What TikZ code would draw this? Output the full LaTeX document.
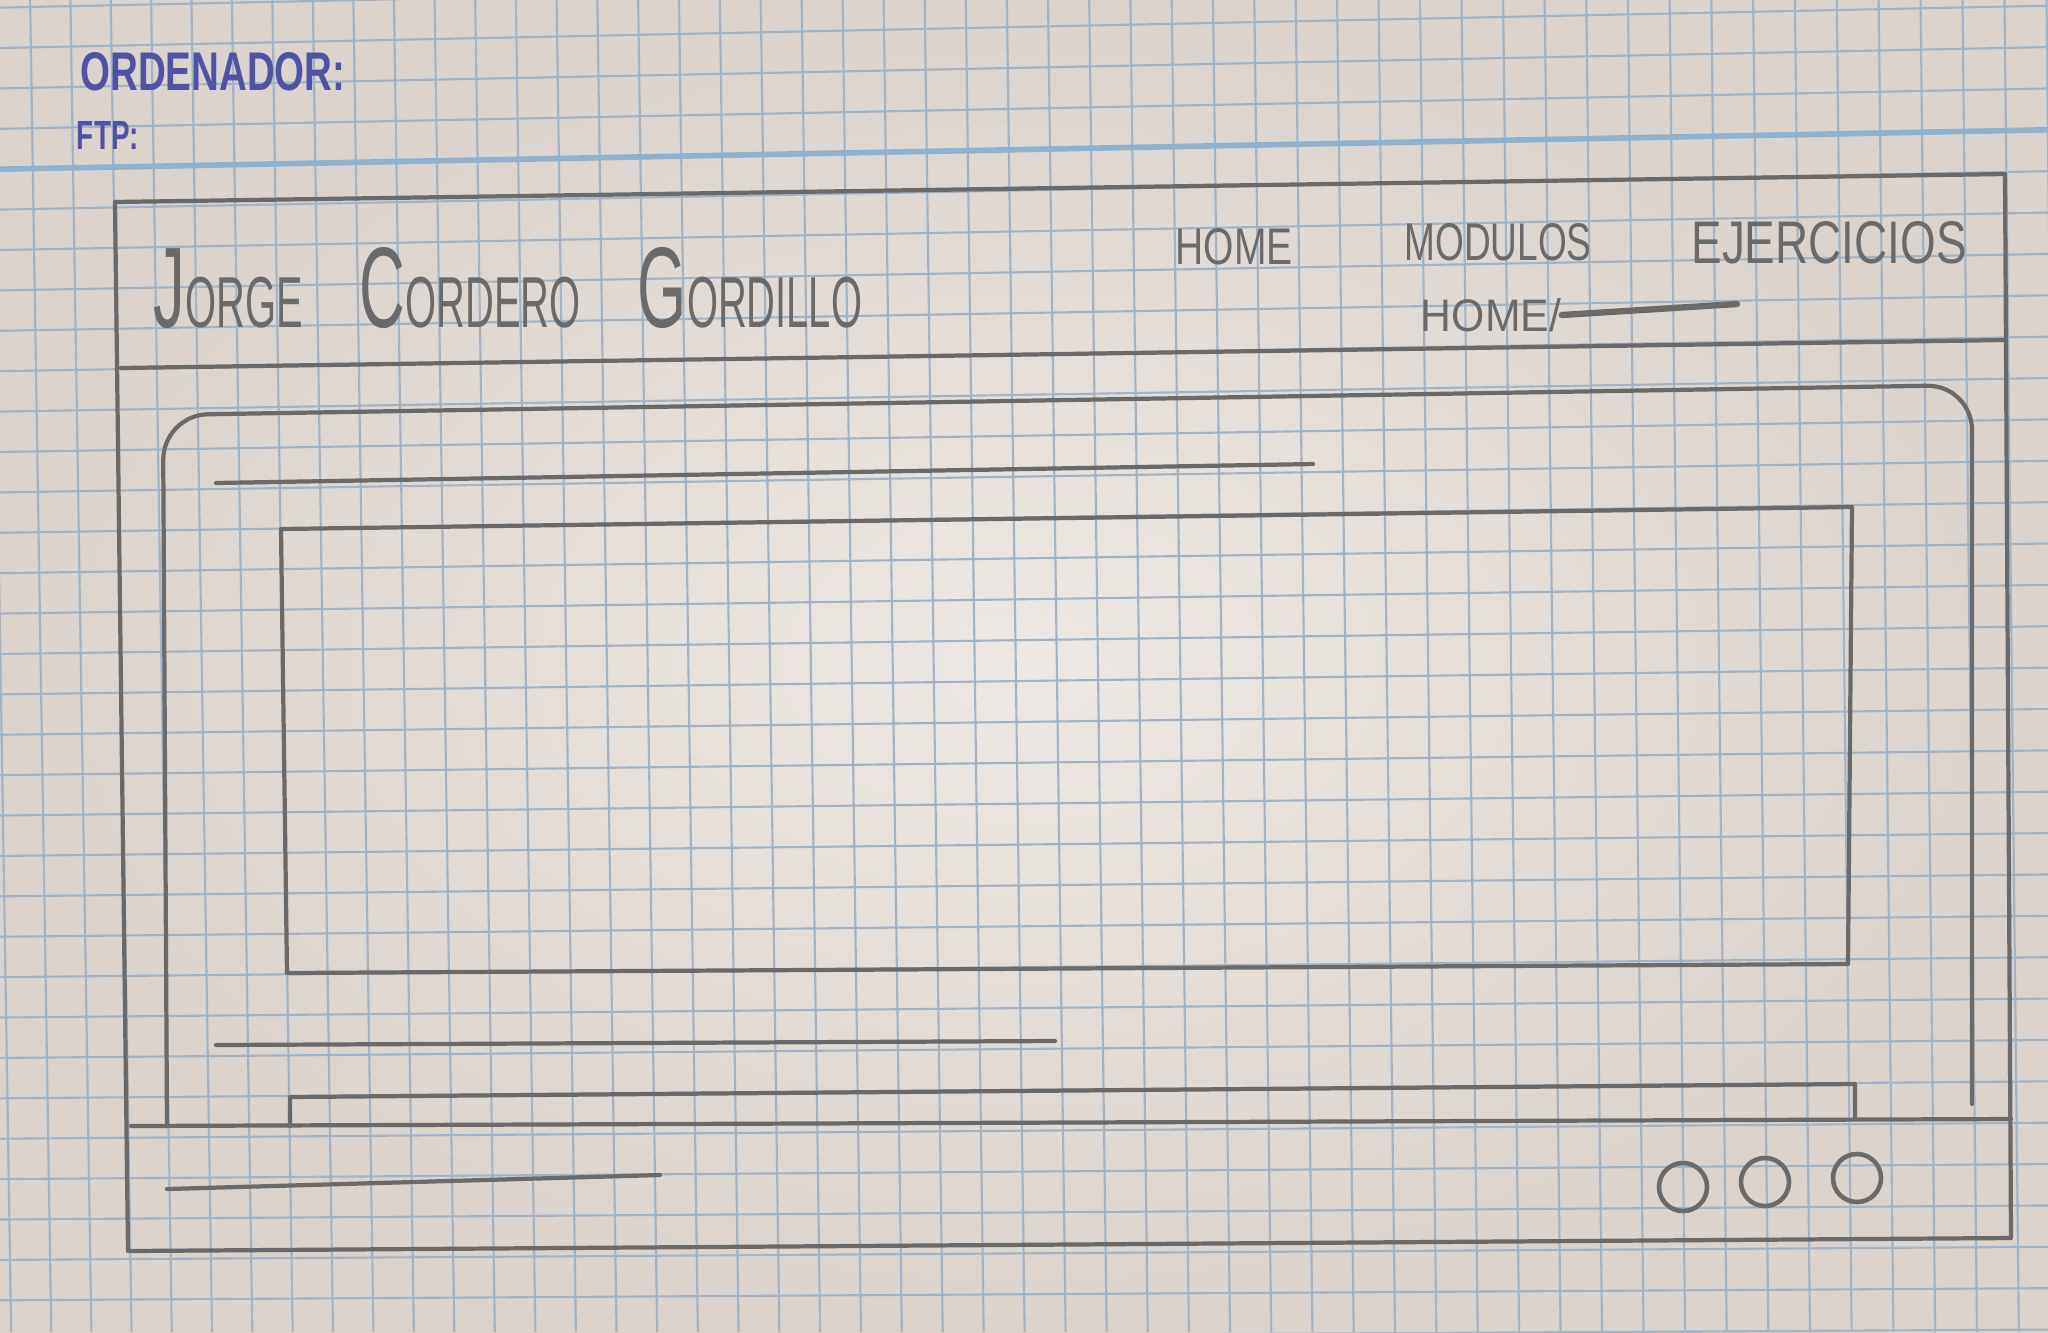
\documentclass[tikz,border=0pt]{standalone}
\usepackage{fontspec}
\setmainfont{Liberation Sans}
\usepackage{graphicx}
\usepackage{tikz}
\usetikzlibrary{positioning}
\definecolor{paperlight}{HTML}{EEE8E4}
\definecolor{paperdark}{HTML}{DBD3CC}
\definecolor{gridblue}{HTML}{9FB4C8}
\definecolor{marginblue}{HTML}{8DB1CE}
\definecolor{pencil}{HTML}{6A6A6A}
\definecolor{ink}{HTML}{5053A3}
\tikzstyle{pencil}=[draw=pencil,line width=1.2pt,line cap=round,line join=round]
\newcommand{\sketchword}[3]{\resizebox{#1}{#2}{#3}}
\newcommand{\smallcaps}[1]{{\fontsize{6.3}{7}\selectfont #1}}

\begin{document}
\begin{tikzpicture}[
    x=0.01cm, y=-0.01cm,
    gridline/.style={draw=gridblue,line width=0.6pt},
    handtext/.style={text=pencil,inner sep=0pt},
    inktext/.style={text=ink,inner sep=0pt,font=\bfseries},
    dotbtn/.style={circle,draw=pencil,line width=1.3pt,minimum size=0.48cm,inner sep=0pt}
]
% graph paper
\shade[inner color=paperlight,outer color=paperdark] (0,0) rectangle (2048,1332);
\useasboundingbox (0,0) rectangle (2048,1332);
\foreach \i in {-2,...,48}{
    \pgfmathsetmacro{\xt}{70.4+40.30*\i+0.01809*\i*\i}
    \pgfmathsetmacro{\xb}{\xt+21.02-0.1417*\i}
    \draw[gridline] (\xt,0) -- (\xb,1332);
}
\foreach \j in {-5,...,29}{
    \pgfmathsetmacro{\yl}{169.2+40.396*\j}
    \pgfmathsetmacro{\yr}{129.8+41.37*\j}
    \draw[gridline] (0,\yl) -- (2048,\yr);
}
\draw[draw=marginblue,line width=1.6pt] (0,169.2) -- (2048,129.8);

% ink notes
\node[inktext] (ordenador) at (213,72) {\sketchword{2.65cm}{0.38cm}{ORDENADOR:}};
\node[inktext] (ftp) at (108,135) {\sketchword{0.62cm}{0.28cm}{FTP:}};

% page frame and header
\draw[pencil] (115,202) -- (2005,174) -- (2011,1238) -- (128,1251) -- cycle;
\draw[pencil] (121,368) -- (2005,340);
\node[handtext] (fullname) at (508,288) {\sketchword{7.08cm}{0.8cm}{%
    J\smallcaps{ORGE}\hspace{0.9em}C\smallcaps{ORDERO}\hspace{0.9em}G\smallcaps{ORDILLO}}};
\node[handtext] (navhome) at (1234,247) {\sketchword{1.17cm}{0.36cm}{HOME}};
\node[handtext] (navmodulos) at (1498,242) {\sketchword{1.87cm}{0.37cm}{MODULOS}};
\node[handtext] (navejercicios) at (1829,243) {\sketchword{2.75cm}{0.42cm}{EJERCICIOS}};
\node[handtext] (breadcrumb) at (1491,315) {\sketchword{1.40cm}{0.33cm}{HOME/}};
\coordinate (crumbend) at (1737,304);
\draw[pencil,line width=1.8pt] (breadcrumb.east) -- (crumbend);

% content card
\draw[pencil] (167,1126) [rounded corners=0.45cm] -- (163,415) -- (1972,385)
    [sharp corners] -- (1972,1104);
\draw[pencil] (216,483) -- (1313,464);
\draw[pencil] (281,529) -- (1852,507) -- (1848,964) -- (287,973) -- cycle;
\draw[pencil] (216,1045) -- (1055,1041);
\draw[pencil] (290,1126) -- (290,1097) -- (1855,1084) -- (1855,1119);

% footer
\draw[pencil] (131,1126) -- (2011,1119);
\draw[pencil] (167,1189) -- (660,1175);
\foreach \cx/\cy [count=\k] in {1683/1187,1765/1182,1857/1178}
    \node[dotbtn] (btn\k) at (\cx,\cy) {};
\end{tikzpicture}
\end{document}
